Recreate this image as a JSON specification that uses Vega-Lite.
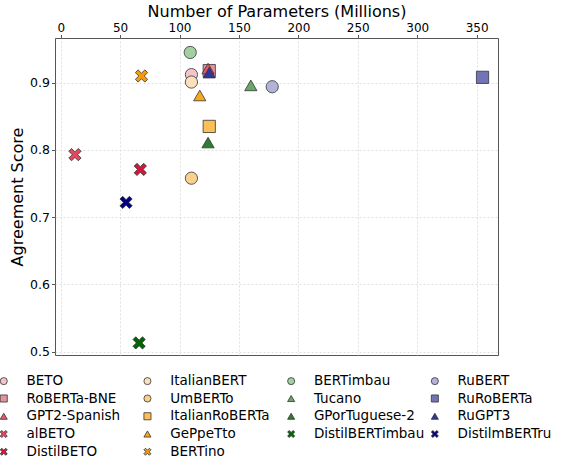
{
  "$schema": "https://vega.github.io/schema/vega-lite/v6.json",
  "width": 443,
  "height": 317,
  "autosize": {"type": "none"},
  "padding": {"left": 55, "top": 38, "right": 70, "bottom": 104},
  "background": "white",
  "data": {
    "values": [
      {"model": "BETO", "params": 110, "score": 0.912},
      {"model": "RoBERTa-BNE", "params": 125, "score": 0.918},
      {"model": "GPT2-Spanish", "params": 124, "score": 0.921},
      {"model": "alBETO", "params": 12, "score": 0.793},
      {"model": "DistilBETO", "params": 67, "score": 0.771},
      {"model": "ItalianBERT", "params": 110, "score": 0.901},
      {"model": "UmBERTo", "params": 110, "score": 0.758},
      {"model": "ItalianRoBERTa", "params": 125, "score": 0.835},
      {"model": "GePpeTto", "params": 117, "score": 0.881},
      {"model": "BERTino", "params": 68, "score": 0.910},
      {"model": "BERTimbau", "params": 109, "score": 0.945},
      {"model": "Tucano", "params": 160, "score": 0.896},
      {"model": "GPorTuguese-2", "params": 124, "score": 0.811},
      {"model": "DistilBERTimbau", "params": 66, "score": 0.513},
      {"model": "RuBERT", "params": 178, "score": 0.894},
      {"model": "RuRoBERTa", "params": 355, "score": 0.908},
      {"model": "RuGPT3", "params": 125, "score": 0.915},
      {"model": "DistilmBERTru", "params": 55, "score": 0.722}
    ]
  },
  "mark": {"type": "point", "filled": true, "opacity": 1, "stroke": "#333", "strokeWidth": 0.8, "size": 150},
  "encoding": {
    "x": {
      "field": "params", "type": "quantitative",
      "scale": {"domain": [-4.8, 368], "nice": false, "zero": false},
      "axis": {"orient": "top", "values": [0, 50, 100, 150, 200, 250, 300, 350], "title": "Number of Parameters (Millions)", "titleFontSize": 16, "titleY": -27, "titleBaseline": "middle", "labelFontSize": 12, "labelBaseline": "middle", "labelPadding": 7}
    },
    "y": {
      "field": "score", "type": "quantitative",
      "scale": {"domain": [0.495, 0.9665], "nice": false, "zero": false},
      "axis": {"values": [0.5, 0.6, 0.7, 0.8, 0.9], "format": ".1f", "title": "Agreement Score", "titleFontSize": 16, "titlePadding": 4, "labelFontSize": 12.5, "labelPadding": 2}
    },
    "color": {
      "field": "model", "type": "nominal",
      "scale": {
        "domain": ["BETO", "ItalianBERT", "BERTimbau", "RuBERT", "RoBERTa-BNE", "UmBERTo", "Tucano", "RuRoBERTa", "GPT2-Spanish", "ItalianRoBERTa", "GPorTuguese-2", "RuGPT3", "alBETO", "GePpeTto", "DistilBERTimbau", "DistilmBERTru", "DistilBETO", "BERTino"],
        "range": ["#f3c4cc", "#fbe0bb", "#a3d0a3", "#b3b3d9", "#e8909c", "#f9d18f", "#69a869", "#7373b8", "#e05a6c", "#fbbf55", "#2f7d32", "#333399", "#e04a60", "#f8a81c", "#006400", "#000080", "#d6153b", "#f59d0d"]
      },
      "legend": {
        "title": null, "orient": "none", "legendX": -58, "legendY": 336,
        "columns": 4, "direction": "horizontal", "gridAlign": "all", "columnPadding": 3.7, "rowPadding": 2.75,
        "labelFontSize": 13.5, "labelOffset": 16, "labelLimit": 200, "symbolSize": 50, "symbolStrokeWidth": 0.8, "symbolStrokeColor": "#333", "labelColor": "#000"
      }
    },
    "shape": {
      "field": "model", "type": "nominal",
      "scale": {
        "domain": ["BETO", "ItalianBERT", "BERTimbau", "RuBERT", "RoBERTa-BNE", "UmBERTo", "Tucano", "RuRoBERTa", "GPT2-Spanish", "ItalianRoBERTa", "GPorTuguese-2", "RuGPT3", "alBETO", "GePpeTto", "DistilBERTimbau", "DistilmBERTru", "DistilBETO", "BERTino"],
        "range": ["circle", "circle", "circle", "circle", "square", "circle", "triangle-up", "square", "triangle-up", "square", "triangle-up", "triangle-up",
          "M -0.55 -1 L 0 -0.45 L 0.55 -1 L 1 -0.55 L 0.45 0 L 1 0.55 L 0.55 1 L 0 0.45 L -0.55 1 L -1 0.55 L -0.45 0 L -1 -0.55 Z",
          "triangle-up",
          "M -0.55 -1 L 0 -0.45 L 0.55 -1 L 1 -0.55 L 0.45 0 L 1 0.55 L 0.55 1 L 0 0.45 L -0.55 1 L -1 0.55 L -0.45 0 L -1 -0.55 Z",
          "M -0.55 -1 L 0 -0.45 L 0.55 -1 L 1 -0.55 L 0.45 0 L 1 0.55 L 0.55 1 L 0 0.45 L -0.55 1 L -1 0.55 L -0.45 0 L -1 -0.55 Z",
          "M -0.55 -1 L 0 -0.45 L 0.55 -1 L 1 -0.55 L 0.45 0 L 1 0.55 L 0.55 1 L 0 0.45 L -0.55 1 L -1 0.55 L -0.45 0 L -1 -0.55 Z",
          "M -0.55 -1 L 0 -0.45 L 0.55 -1 L 1 -0.55 L 0.45 0 L 1 0.55 L 0.55 1 L 0 0.45 L -0.55 1 L -1 0.55 L -0.45 0 L -1 -0.55 Z"]
      },
      "legend": null
    }
  },
  "config": {
    "font": "DejaVu Sans",
    "view": {"stroke": "#555", "strokeWidth": 1},
    "axis": {
      "domain": false, "grid": true, "gridColor": "#d8d8d8", "gridDash": [2, 2], "gridWidth": 0.8,
      "tickColor": "#555", "tickSize": 3.5, "labelColor": "#000", "titleColor": "#000", "titleFontWeight": "normal", "labelFont": "DejaVu Sans", "titleFont": "DejaVu Sans"
    },
    "legend": {"labelFont": "DejaVu Sans"}
  }
}
